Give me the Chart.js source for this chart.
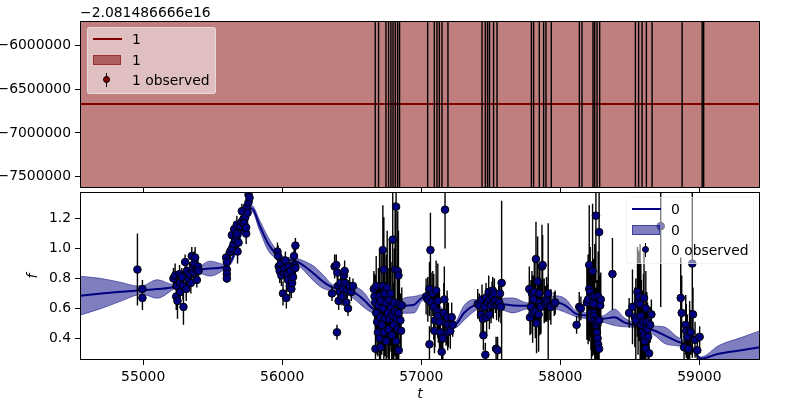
<!DOCTYPE html>
<html>
<head>
<meta charset="utf-8">
<script src="https://cdn.jsdelivr.net/npm/chart.js@4.4.0/dist/chart.umd.min.js"></script>
<style>
body { margin: 0; background: #fff; font-family: 'DejaVu Sans', sans-serif; }
#wrap { position: relative; width: 800px; height: 400px; }
#wrap canvas { position: absolute; left: 0; }
#topChart { top: 0; z-index: 2; }
#botChart { top: 180px; z-index: 1; }
.leg { position: absolute; z-index: 3; width: 129px; height: 67px; box-sizing: border-box;
       background: rgba(255,255,255,0.5); border: 1px solid rgba(235,235,235,0.6); border-radius: 3px;
       font-size: 13.9px; color: #000; }
.leg div { position: absolute; }
.lab { left: 44px; line-height: 18px; white-space: nowrap; }
.hline { left: 4.5px; top: 10px; width: 29px; height: 2px; }
.patch { left: 4.5px; top: 26.5px; width: 28px; height: 10px; box-sizing: border-box; }
.ebar { left: 18px; top: 44.5px; width: 1px; height: 14px; background: #000; }
.dot { left: 14.8px; top: 48px; width: 7.2px; height: 7.2px; border-radius: 50%; box-sizing: border-box; border: 1px solid #000; }
</style>
</head>
<body>
<div id="wrap">
  <canvas id="topChart" width="800" height="200"></canvas>
  <canvas id="botChart" width="800" height="220"></canvas>

  <div class="leg" style="left:87px;top:27px;">
    <div class="hline" style="background:#800000"></div>
    <div class="lab" style="top:2px">1</div>
    <div class="patch" style="background:rgba(128,0,0,0.5);border:1px solid rgba(128,0,0,0.5)"></div>
    <div class="lab" style="top:22.5px">1</div>
    <div class="ebar"></div>
    <div class="dot" style="background:#800000"></div>
    <div class="lab" style="top:43px">1 observed</div>
  </div>

  <div class="leg" style="left:626px;top:197px;width:128px;">
    <div class="hline" style="background:#000080"></div>
    <div class="lab" style="top:2px">0</div>
    <div class="patch" style="background:rgba(0,0,128,0.5);border:1px solid rgba(0,0,128,0.5)"></div>
    <div class="lab" style="top:22.5px">0</div>
    <div class="ebar"></div>
    <div class="dot" style="background:#000080"></div>
    <div class="lab" style="top:43px">0 observed</div>
  </div>
</div>

<script>
// shared time axis
const tMin = 54546, tMax = 59436;
const xTicks = [55000, 56000, 57000, 58000, 59000];

// ---- top panel (series 1), values relative to the axis offset ----
const offsetLabel = '\u22122.081486666e16';
const top_yMin = -7627800, top_yMax = -5717200;
const topYTicks = [-7500000, -7000000, -6500000, -6000000];
const gp1T = [54546, 59436];
const gp1Mean = [-6667400, -6667400];
const gp1Hw = [5000000, 5000000];          // band is wider than the window
const obs1T = [56669, 56693, 56746, 56765, 56782, 56797, 56813, 56830, 56844,
  57046, 57094, 57113, 57130, 57149, 57192,
  57437, 57461, 57477, 57491, 57520, 57545,
  57792, 57808, 57849, 57880, 57897, 57935,
  58137, 58156, 58235, 58247, 58264, 58283,
  58540, 58563, 58588, 58619, 58660, 58876, 59020, 59031];
const obs1Val = 0, obs1Err = 20000000;     // points sit far outside, only bars cross

// ---- bottom panel (series 0) ----
const bot_yMin = 0.255, bot_yMax = 1.376;
const botYTicks = [0.4, 0.6, 0.8, 1.0, 1.2];
const gpT = [54546, 54700, 54850, 54960, 55000, 55100, 55220, 55300, 55400, 55480, 55590, 55640,
  55700, 55750, 55780, 55840, 55900, 55960, 56000, 56100, 56160, 56230, 56300, 56370, 56450, 56520,
  56590, 56650, 56720, 56800, 56870, 56950, 57010, 57080, 57160, 57240, 57310, 57380, 57450, 57520,
  57590, 57660, 57765, 57860, 57970, 58040, 58110, 58200, 58300, 58390, 58460, 58500, 58590, 58675,
  58750, 58840, 58900, 58950, 59010, 59140, 59300, 59436];
const gpMean = [0.685, 0.70, 0.712, 0.72, 0.722, 0.73, 0.745, 0.80, 0.855, 0.866, 0.88, 0.93,
  1.09, 1.22, 1.27, 1.15, 1.03, 0.96, 0.93, 0.915, 0.882, 0.83, 0.775, 0.738, 0.73, 0.705,
  0.655, 0.60, 0.58, 0.585, 0.617, 0.625, 0.672, 0.64, 0.56, 0.49, 0.573, 0.62, 0.63, 0.63,
  0.628, 0.62, 0.617, 0.63, 0.639, 0.617, 0.565, 0.55, 0.53, 0.54, 0.507, 0.496, 0.475, 0.452,
  0.42, 0.38, 0.36, 0.33, 0.265, 0.297, 0.32, 0.341];
const gpHw = [0.13, 0.10, 0.06, 0.03, 0.03, 0.062, 0.015, 0.02, 0.02, 0.05, 0.015, 0.02,
  0.02, 0.02, 0.02, 0.035, 0.044, 0.03, 0.02, 0.02, 0.033, 0.05, 0.044, 0.02, 0.03, 0.044,
  0.05, 0.03, 0.02, 0.02, 0.05, 0.055, 0.02, 0.03, 0.03, 0.02, 0.05, 0.04, 0.02, 0.02,
  0.04, 0.05, 0.02, 0.03, 0.045, 0.045, 0.02, 0.02, 0.02, 0.055, 0.03, 0.02, 0.02, 0.03,
  0.055, 0.03, 0.02, 0.02, 0.01, 0.055, 0.085, 0.11];

// observed points: time, value, error
const t0 = [
  54959, 54995, 54995,
  55218, 55230, 55242, 55238, 55247, 55262, 55266, 55266, 55278, 55290, 55286, 55302, 55310,
  55314, 55326, 55334, 55343, 55350, 55358, 55362, 55367, 55374, 55382, 55386, 55394, 55398,
  55597, 55602, 55602, 55602, 55602,
  55626, 55638, 55650, 55638, 55655, 55662, 55669, 55674, 55679, 55686, 55674, 55698, 55710,
  55710, 55722, 55734, 55741, 55746, 55751, 55758, 55758, 55765, 55727, 55741,
  55966, 55971, 55975, 55982, 55990, 55994, 56006, 56014, 56018, 56023, 56030, 56038, 56042,
  56047, 56054, 56061, 56066, 56071, 56078, 56085, 56090, 56095, 56095,
  56358, 56377, 56389, 56396, 56401, 56406, 56413, 56420, 56430, 56437, 56444, 56449, 56454,
  56461, 56468, 56473, 56485, 56497, 56509, 56394,
  56659, 56664, 56669, 56676, 56676, 56683, 56688, 56671, 56692, 56700, 56700, 56707, 56707,
  56712, 56716, 56724, 56724, 56724, 56731, 56731, 56736, 56740, 56748, 56748, 56755, 56760,
  56764, 56771, 56771, 56779, 56783, 56788, 56795, 56795, 56803, 56807, 56812, 56812, 56819,
  56819, 56827, 56831, 56831, 56836, 56836, 56838, 56843, 56850, 56855, 56860,
  57035, 57047, 57059, 57066, 57071, 57083, 57090, 57099, 57095, 57107, 57114, 57119, 57123,
  57131, 57138, 57147, 57155, 57162, 57166, 57171, 57178, 57186, 57190, 57195, 57209, 57219,
  57226, 57059,
  57406, 57418, 57430, 57437, 57442, 57447, 57454, 57461, 57466, 57470, 57478, 57485, 57490,
  57494, 57502, 57509, 57514, 57518, 57526, 57533, 57538, 57542, 57549, 57557, 57561, 57566,
  57573, 57578,
  57777, 57782, 57789, 57796, 57801, 57806, 57813, 57820, 57825, 57829, 57837, 57844, 57849,
  57853, 57861, 57868, 57873, 57884, 57892, 57901, 57913, 57908, 57925, 57932, 57956, 57963,
  58117, 58136, 58148, 58191, 58200, 58208, 58208, 58215, 58220, 58224, 58232, 58232, 58239,
  58239, 58244, 58248, 58248, 58256, 58256, 58263, 58263, 58268, 58272, 58272, 58279, 58279,
  58279, 58287, 58291,
  58375,
  58495, 58519, 58536, 58543, 58555, 58559, 58567, 58574, 58579, 58583, 58591, 58598, 58602,
  58602, 58607, 58615, 58615, 58622, 58627, 58631, 58638, 58646, 58655, 58722,
  58866, 58873, 58890, 58902, 58906, 58914, 58921, 58930, 58938, 58949, 58954, 58969, 58985, 59002];
const f0 = [
  0.86, 0.73, 0.67,
  0.80, 0.82, 0.75, 0.68, 0.65, 0.83, 0.77, 0.71, 0.81, 0.61, 0.75, 0.91, 0.73,
  0.85, 0.79, 0.83, 0.77, 0.95, 0.87, 0.84, 0.90, 0.94, 0.86, 0.79, 0.88, 0.85,
  0.94, 0.91, 0.86, 0.83, 0.80,
  0.98, 1.00, 1.03, 1.09, 1.13, 1.06, 1.08, 1.10, 0.98, 1.04, 1.16, 1.15, 1.18,
  1.25, 1.20, 1.21, 1.10, 1.28, 1.24, 1.31, 1.36, 1.34, 1.17, 1.14,
  0.98, 0.95, 0.88, 0.85, 0.90, 0.82, 0.70, 0.84, 0.87, 0.92, 0.67, 0.83, 0.79,
  0.88, 0.75, 0.85, 0.73, 0.77, 0.81, 0.95, 0.89, 1.02, 0.87,
  0.70, 0.88, 0.89, 0.84, 0.75, 0.65, 0.71, 0.77, 0.68, 0.73, 0.82, 0.85, 0.77,
  0.64, 0.72, 0.60, 0.75, 0.71, 0.75, 0.44,
  0.73, 0.68, 0.64, 0.75, 0.57, 0.51, 0.44, 0.33, 0.62, 0.68, 0.40, 0.54, 0.34,
  0.65, 0.49, 0.75, 0.60, 0.99, 0.44, 0.86, 0.70, 0.53, 0.64, 0.38, 0.74, 0.57,
  0.46, 0.66, 0.53, 0.70, 0.61, 0.42, 1.06, 0.55, 0.49, 0.64, 0.86, 0.58, 1.28,
  0.38, 0.53, 0.85, 0.46, 0.82, 0.57, 0.32, 0.63, 0.52, 0.45, 0.62,
  0.68, 0.66, 0.73, 0.99, 0.64, 0.70, 0.61, 0.52, 0.45, 0.72, 0.58, 0.65, 0.55,
  0.51, 0.44, 0.31, 0.40, 0.57, 0.66, 1.26, 0.50, 0.54, 0.44, 0.49, 0.45, 0.54,
  0.49, 0.36,
  0.63, 0.62, 0.56, 0.66, 0.53, 0.42, 0.61, 0.29, 0.67, 0.54, 0.64, 0.71, 0.56,
  0.66, 0.62, 0.68, 0.72, 0.64, 0.70, 0.65, 0.33, 0.62, 0.32, 0.63, 0.64, 0.70,
  0.61, 0.77,
  0.73, 0.54, 0.61, 0.70, 0.57, 0.66, 0.71, 0.58, 0.93, 0.50, 0.78, 0.56, 0.70,
  0.64, 0.61, 0.88, 0.89, 0.65, 0.63, 0.66, 0.70, 0.64, 0.62, 0.61, 0.63, 0.64,
  0.49, 0.61, 0.60, 0.64, 0.66, 0.89, 0.73, 0.71, 0.57, 0.53, 0.85, 0.68, 0.63,
  0.57, 0.55, 0.52, 0.68, 1.22, 0.49, 0.44, 0.51, 0.40, 0.36, 0.68, 1.11, 0.52,
  0.33, 0.62, 0.66,
  0.83,
  0.57, 0.61, 0.54, 0.52, 0.71, 0.64, 0.68, 0.63, 0.55, 0.49, 0.44, 0.51, 0.42,
  0.67, 0.38, 0.60, 0.33, 0.51, 0.46, 0.41, 0.30, 0.49, 0.56, 1.15,
  0.67, 0.57, 0.34, 0.49, 0.45, 0.41, 0.33, 0.45, 0.44, 0.90, 0.56, 0.39, 0.32, 0.41];
const e0 = [
  0.24, 0.06, 0.08,
  0.07, 0.08, 0.10, 0.09, 0.12, 0.06, 0.08, 0.07, 0.06, 0.12, 0.09, 0.05, 0.08,
  0.07, 0.06, 0.08, 0.07, 0.06, 0.07, 0.05, 0.08, 0.07, 0.06, 0.05, 0.05, 0.04,
  0.04, 0.04, 0.03, 0.04, 0.03,
  0.05, 0.05, 0.06, 0.06, 0.05, 0.07, 0.06, 0.05, 0.08, 0.07, 0.06, 0.05, 0.06,
  0.05, 0.06, 0.05, 0.07, 0.05, 0.06, 0.05, 0.05, 0.05, 0.06, 0.05,
  0.06, 0.07, 0.06, 0.08, 0.06, 0.07, 0.08, 0.06, 0.07, 0.06, 0.07, 0.06, 0.08,
  0.05, 0.07, 0.06, 0.06, 0.05, 0.06, 0.05, 0.06, 0.05, 0.05,
  0.05, 0.08, 0.07, 0.06, 0.09, 0.06, 0.07, 0.08, 0.06, 0.07, 0.06, 0.07, 0.06,
  0.05, 0.07, 0.05, 0.06, 0.06, 0.05, 0.05,
  0.12, 0.15, 0.18, 0.20, 0.14, 0.22, 0.16, 0.12, 0.25, 0.30, 0.18, 0.22, 0.15,
  0.35, 0.20, 0.40, 0.28, 0.30, 0.22, 0.35, 0.30, 0.25, 0.32, 0.18, 0.38, 0.30,
  0.25, 0.40, 0.28, 0.35, 0.30, 0.22, 0.40, 0.32, 0.28, 0.36, 0.45, 0.30, 0.40,
  0.20, 0.30, 0.40, 0.22, 0.30, 0.25, 0.15, 0.20, 0.18, 0.15, 0.12,
  0.12, 0.15, 0.18, 0.25, 0.20, 0.15, 0.22, 0.18, 0.15, 0.20, 0.16, 0.25, 0.18,
  0.20, 0.15, 0.12, 0.15, 0.20, 0.22, 0.26, 0.15, 0.18, 0.12, 0.15, 0.12, 0.10,
  0.08, 0.12,
  0.10, 0.08, 0.12, 0.10, 0.12, 0.10, 0.09, 0.08, 0.10, 0.12, 0.09, 0.11, 0.10,
  0.08, 0.12, 0.10, 0.09, 0.11, 0.10, 0.08, 0.08, 0.10, 0.09, 0.12, 0.10, 0.09,
  0.11, 0.55,
  0.15, 0.12, 0.18, 0.15, 0.20, 0.16, 0.22, 0.18, 0.25, 0.20, 0.30, 0.25, 0.20,
  0.22, 0.18, 0.28, 0.20, 0.15, 0.12, 0.15, 0.47, 0.12, 0.10, 0.12, 0.08, 0.08,
  0.06, 0.10, 0.08, 0.25, 0.30, 0.40, 0.35, 0.30, 0.25, 0.35, 0.45, 0.40, 0.30,
  0.28, 0.25, 0.30, 0.35, 0.45, 0.25, 0.22, 0.28, 0.20, 0.18, 0.30, 0.35, 0.25,
  0.15, 0.20, 0.18,
  0.24,
  0.10, 0.25, 0.20, 0.28, 0.30, 0.35, 0.30, 0.40, 0.35, 0.30, 0.28, 0.32, 0.25,
  0.30, 0.22, 0.25, 0.18, 0.20, 0.18, 0.15, 0.12, 0.12, 0.10, 0.54,
  0.27, 0.25, 0.12, 0.20, 0.18, 0.15, 0.12, 0.20, 0.15, 0.63, 0.18, 0.12, 0.08, 0.07];

// ---- helpers ----
const FONT = 'DejaVu Sans';
Chart.defaults.font.family = FONT;
Chart.defaults.font.size = 13.9;
Chart.defaults.color = '#000';

function edge(T, M, H, sign) {
  return T.map((t, i) => ({x: t, y: M[i] + sign * H[i]}));
}
function errBars(T, Y, E) {
  const out = [];
  T.forEach((t, i) => {
    out.push({x: t, y: Y[i] - E[i]}, {x: t, y: Y[i] + E[i]}, {x: t, y: null});
  });
  return out;
}
// fixed tick positions (Chart.js rounds stepSize oddly when min/max are both set)
const fixedTicks = list => s => { s.ticks = list.map(v => ({value: v})); };

// box round each panel
const frame = {
  id: 'frame',
  afterDatasetsDraw(chart) {
    const {ctx, chartArea: a} = chart;
    ctx.save();
    ctx.strokeStyle = '#000';
    ctx.lineWidth = 1;
    ctx.strokeRect(Math.round(a.left) + 0.5, Math.round(a.top) + 0.5,
      Math.round(a.right - a.left) - 1, Math.round(a.bottom - a.top) - 1);
    ctx.restore();
  }
};
const offsetText = {
  id: 'offsetText',
  afterDraw(chart) {
    const {ctx, chartArea: a} = chart;
    ctx.save();
    ctx.font = '13.9px "DejaVu Sans"';
    ctx.fillStyle = '#000';
    ctx.textBaseline = 'alphabetic';
    ctx.fillText(offsetLabel, a.left, a.top - 4);
    ctx.restore();
  }
};

const tickGrid = {drawOnChartArea: false, tickLength: 5, tickColor: '#000', tickWidth: 1};

// ---- top chart ----
new Chart(document.getElementById('topChart'), {
  type: 'scatter',
  data: {
    datasets: [
      {data: edge(gp1T, gp1Mean, gp1Hw, -1), showLine: true, pointRadius: 0,
       borderWidth: 1, borderColor: 'rgba(128,0,0,0.5)', fill: false, order: 5},
      {data: edge(gp1T, gp1Mean, gp1Hw, 1), showLine: true, pointRadius: 0,
       borderWidth: 1, borderColor: 'rgba(128,0,0,0.5)', fill: '-1',
       backgroundColor: 'rgba(128,0,0,0.5)', order: 4},
      {data: gp1T.map((t, i) => ({x: t, y: gp1Mean[i]})), showLine: true, pointRadius: 0,
       borderWidth: 2, borderColor: '#800000', order: 3},
      {data: errBars(obs1T, obs1T.map(() => obs1Val), obs1T.map(() => obs1Err)),
       showLine: true, pointRadius: 0, borderWidth: 1.4, borderColor: '#000', spanGaps: false, order: 2}
    ]
  },
  options: {
    responsive: false,
    animation: false,
    devicePixelRatio: 1,
    layout: {padding: {top: 21, left: 0, right: 40, bottom: 0}},
    plugins: {legend: {display: false}, tooltip: {enabled: false}},
    scales: {
      x: {type: 'linear', min: tMin, max: tMax,
          afterFit: s => { s.height = 10; },
          afterBuildTicks: fixedTicks(xTicks),
          ticks: {display: false},
          grid: tickGrid, border: {display: false}},
      y: {type: 'linear', min: top_yMin, max: top_yMax,
          afterFit: s => { s.width = 80; },
          afterBuildTicks: fixedTicks(topYTicks),
          ticks: {padding: 4, callback: v => (v < 0 ? '\u2212' : '') + Math.abs(v).toFixed(0)},
          grid: tickGrid, border: {display: false}}
    }
  },
  plugins: [frame, offsetText]
});

// ---- bottom chart ----
new Chart(document.getElementById('botChart'), {
  type: 'scatter',
  data: {
    datasets: [
      {data: edge(gpT, gpMean, gpHw, -1), showLine: true, pointRadius: 0,
       borderWidth: 1, borderColor: 'rgba(0,0,128,0.5)', fill: false,
       cubicInterpolationMode: 'monotone', order: 5},
      {data: edge(gpT, gpMean, gpHw, 1), showLine: true, pointRadius: 0,
       borderWidth: 1, borderColor: 'rgba(0,0,128,0.5)', fill: '-1',
       backgroundColor: 'rgba(0,0,128,0.5)', cubicInterpolationMode: 'monotone', order: 4},
      {data: gpT.map((t, i) => ({x: t, y: gpMean[i]})), showLine: true, pointRadius: 0,
       borderWidth: 2, borderColor: '#000080', cubicInterpolationMode: 'monotone', order: 3},
      {data: errBars(t0, f0, e0), showLine: true, pointRadius: 0, borderWidth: 1.4,
       borderColor: '#000', spanGaps: false, order: 2},
      {data: t0.map((t, i) => ({x: t, y: f0[i]})), pointRadius: 3.8,
       pointBackgroundColor: '#000080', pointBorderColor: '#000', pointBorderWidth: 1, order: 1}
    ]
  },
  options: {
    responsive: false,
    animation: false,
    devicePixelRatio: 1,
    layout: {padding: {top: 10, left: 25, right: 40, bottom: 0}},
    plugins: {legend: {display: false}, tooltip: {enabled: false}},
    scales: {
      x: {type: 'linear', min: tMin, max: tMax,
          afterFit: s => { s.height = 40; },
          afterBuildTicks: fixedTicks(xTicks),
          ticks: {padding: 4, maxRotation: 0, autoSkip: false, callback: v => String(v)},
          grid: tickGrid, border: {display: false},
          title: {display: true, text: 't', font: {family: FONT, size: 13.9, style: 'italic'},
                  padding: {top: 0, bottom: -3}}},
      y: {type: 'linear', min: bot_yMin, max: bot_yMax,
          afterFit: s => { s.width = 55; },
          afterBuildTicks: fixedTicks(botYTicks),
          ticks: {padding: 4, callback: v => v.toFixed(1)},
          grid: tickGrid, border: {display: false},
          title: {display: true, text: 'f', font: {family: FONT, size: 13.9, style: 'italic'},
                  padding: {top: 0, bottom: 0}}}
    }
  },
  plugins: [frame]
});
</script>
</body>
</html>
